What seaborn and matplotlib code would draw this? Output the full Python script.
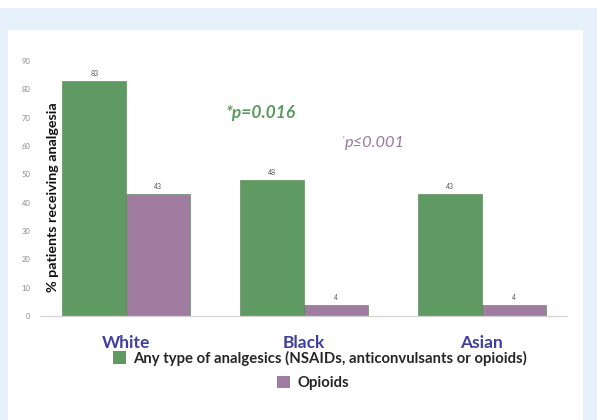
import matplotlib
matplotlib.use("Agg")
import matplotlib.pyplot as plt
from matplotlib.patches import Rectangle, Patch
import seaborn as sns
import pandas as pd

# Data
groups = ["White", "Black", "Asian"]
series = ["Any type of analgesics (NSAIDs, anticonvulsants or opioids)", "Opioids"]
any_analgesic = [83, 48, 43]
opioids = [43, 4, 4]
y_ticks = [0, 10, 20, 30, 40, 50, 60, 70, 80, 90]

green = "#5e9a62"
purple = "#a07ca0"
label_blue = "#3f3f9f"

df = pd.DataFrame({
    "group": groups * 2,
    "series": [series[0]] * 3 + [series[1]] * 3,
    "pct": any_analgesic + opioids,
})

sns.set_theme(style="white")
plt.rcParams["font.family"] = ["Lato", "DejaVu Sans"]

fig = plt.figure(figsize=(5.97, 4.2), dpi=100)
fig.patch.set_facecolor("#e6f0fa")
W, H = 597, 420
# white strip along the top and the white content panel
fig.add_artist(Rectangle((0, 1 - 7.5 / H), 1, 7.5 / H, transform=fig.transFigure,
                         facecolor="white", edgecolor="none", zorder=0))
fig.add_artist(Rectangle((7.5 / W, 0), (583 - 7.5) / W, 1 - 30 / H, transform=fig.transFigure,
                         facecolor="white", edgecolor="none", zorder=0))

ax = fig.add_axes([40 / W, 1 - 316 / H, 527 / W, 255 / H])
ax.set_facecolor("none")

sns.barplot(data=df, x="group", y="pct", hue="series", palette=[green, purple],
            width=0.72, saturation=1, ax=ax, legend=False,
            edgecolor="#4d7f50", linewidth=0.4)
for bar, vals in zip(ax.containers, [any_analgesic, opioids]):
    ax.bar_label(bar, labels=[str(v) for v in vals], padding=3, fontsize=5, color="#555555")

ax.set_xlim(-0.485, 2.48)
ax.set_ylim(0, 90)
ax.set_yticks(y_ticks)
ax.tick_params(axis="y", labelsize=5.5, labelcolor="#8a8a8a", length=0, pad=7)
ax.tick_params(axis="x", labelsize=12.5, labelcolor=label_blue, length=0, pad=13.5)
for t in ax.get_xticklabels():
    t.set_fontweight("bold")
ax.set_xlabel("")
ax.set_ylabel("% patients receiving analgesia", fontsize=10.3, fontweight="bold", color="#111111")
ax.yaxis.set_label_coords(0.036, 0.465)

for s in ["top", "right", "left"]:
    ax.spines[s].set_visible(False)
ax.spines["bottom"].set_color("#d4d4d4")
ax.spines["bottom"].set_linewidth(0.9)

# significance notes
ax.text(261 / W, 1 - 113 / H, "*p=0.016", transform=fig.transFigure, ha="center", va="center",
        fontsize=12.5, fontweight="bold", fontstyle="italic", color="#5a9a5e")
ax.text(341 / W, 1 - 139 / H, "*", transform=fig.transFigure, ha="left", va="center",
        fontsize=5, fontstyle="italic", color=purple)
ax.text(345 / W, 1 - 142.5 / H, "p\u22640.001", transform=fig.transFigure, ha="left", va="center",
        fontsize=11.8, fontstyle="italic", color="#9a7a9e")

# legend rows
leg1 = fig.legend(handles=[Patch(facecolor=green, edgecolor="none")], labels=[series[0]],
                  loc="center", bbox_to_anchor=(320 / W, 1 - 358 / H), frameon=False,
                  prop={"size": 10.7, "weight": "bold"}, handlelength=0.9, handleheight=0.9,
                  handletextpad=0.5, borderpad=0)
leg2 = fig.legend(handles=[Patch(facecolor=purple, edgecolor="none")], labels=[series[1]],
                  loc="center", bbox_to_anchor=(313 / W, 1 - 383 / H), frameon=False,
                  prop={"size": 10.7, "weight": "bold"}, handlelength=0.9, handleheight=0.9,
                  handletextpad=0.5, borderpad=0)

fig.savefig("out.png", dpi=100, facecolor=fig.get_facecolor())
